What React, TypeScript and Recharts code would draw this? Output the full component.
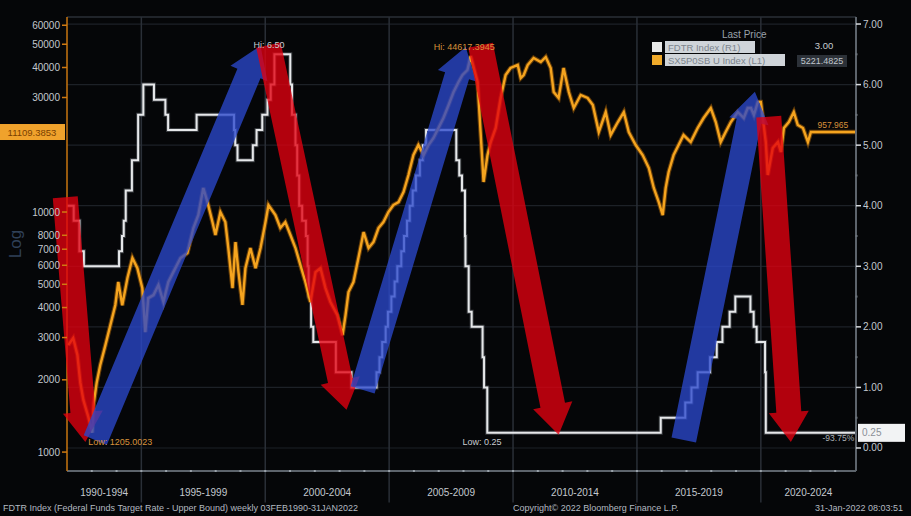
import React from 'react';
import { LineChart, Line, XAxis, YAxis, ReferenceLine, ReferenceDot } from 'recharts';

// ---------- axes ----------
const xDomain = [1992, 2023.84];
const leftDomain = [834, 64930];
const rightDomain = [-0.38, 7.116];
const leftTicks = [1000, 2000, 3000, 4000, 5000, 6000, 7000, 8000, 10000, 30000, 40000, 50000, 60000];
const rightTicks = [0, 0.5, 1, 1.5, 2, 2.5, 3, 3.5, 4, 4.5, 5, 5.5, 6, 6.5, 7];
const yearTicks = [1993, 1994, 1995, 1996, 1997, 1998, 1999, 2000, 2001, 2002, 2003, 2004, 2005, 2006, 2007, 2008, 2009, 2010, 2011, 2012, 2013, 2014, 2015, 2016, 2017, 2018, 2019, 2020, 2021, 2022, 2023];
const periodCenters = [1993.5, 1997.5, 2002.5, 2007.5, 2012.5, 2017.5, 2021.92];
const periodLabels = ['1990-1994', '1995-1999', '2000-2004', '2005-2009', '2010-2014', '2015-2019', '2020-2024'];
const periodBounds = [1995, 2000, 2005, 2010, 2015, 2020];
const gridRates = [0, 1, 2, 3, 4, 5, 6, 7];

// ---------- FDTR (right axis, step) ----------
const fdtrDates = [
  1992.0, 1992.27, 1992.5, 1992.68, 1994.1, 1994.22, 1994.29, 1994.37, 1994.62, 1994.87,
  1995.08, 1995.51, 1995.97, 1996.08, 1997.23, 1998.74, 1998.79, 1998.88, 1999.5, 1999.65,
  1999.88, 2000.09, 2000.22, 2000.37, 2001.01, 2001.08, 2001.22, 2001.29, 2001.37, 2001.49,
  2001.64, 2001.71, 2001.75, 2001.85, 2001.94, 2002.85, 2003.48, 2004.49, 2004.61, 2004.72,
  2004.86, 2004.95, 2005.09, 2005.22, 2005.33, 2005.49, 2005.6, 2005.72, 2005.83, 2005.95,
  2006.08, 2006.24, 2006.36, 2006.49, 2007.71, 2007.83, 2007.94, 2008.06, 2008.08, 2008.21,
  2008.33, 2008.77, 2008.83, 2008.96, 2015.96, 2016.95, 2017.2, 2017.45, 2017.95, 2018.22,
  2018.45, 2018.74, 2018.97, 2019.58, 2019.71, 2019.83, 2020.17, 2020.2, 2023.84,
];
const fdtrRates = [
  4.0, 3.75, 3.25, 3.0, 3.25, 3.5, 3.75, 4.25, 4.75, 5.5,
  6.0, 5.75, 5.5, 5.25, 5.5, 5.25, 5.0, 4.75, 5.0, 5.25,
  5.5, 5.75, 6.0, 6.5, 6.0, 5.5, 5.0, 4.5, 4.0, 3.75,
  3.5, 3.0, 2.5, 2.0, 1.75, 1.25, 1.0, 1.25, 1.5, 1.75,
  2.0, 2.25, 2.5, 2.75, 3.0, 3.25, 3.5, 3.75, 4.0, 4.25,
  4.5, 4.75, 5.0, 5.25, 4.75, 4.5, 4.25, 3.5, 3.0, 2.25,
  2.0, 1.5, 1.0, 0.25, 0.5, 0.75, 1.0, 1.25, 1.5, 1.75,
  2.0, 2.25, 2.5, 2.25, 2.0, 1.75, 1.25, 0.25, 0.25,
];

// ---------- Index (left axis, log) ----------
const idxDates = [
  1992.05, 1992.25, 1992.42, 1992.54, 1992.66, 1992.86, 1993.02, 1993.08, 1993.2, 1993.34,
  1993.55, 1993.75, 1993.95, 1994.07, 1994.23, 1994.44, 1994.64, 1994.84, 1995.04, 1995.16,
  1995.28, 1995.49, 1995.69, 1995.89, 1996.09, 1996.29, 1996.58, 1996.86, 1997.1, 1997.3,
  1997.5, 1997.67, 1997.87, 1997.99, 1998.19, 1998.39, 1998.51, 1998.68, 1998.8, 1998.92,
  1999.08, 1999.2, 1999.4, 1999.61, 1999.81, 2000.01, 2000.13, 2000.41, 2000.61, 2000.81,
  2001.02, 2001.22, 2001.42, 2001.62, 2001.82, 2002.03, 2002.23, 2002.43, 2002.63, 2002.91,
  2003.12, 2003.24, 2003.36, 2003.56, 2003.76, 2003.97, 2004.17, 2004.37, 2004.57, 2004.77,
  2004.97, 2005.17, 2005.38, 2005.58, 2005.78, 2005.98, 2006.18, 2006.39, 2006.59, 2006.79,
  2006.99, 2007.19, 2007.4, 2007.6, 2007.8, 2007.96, 2008.16, 2008.29, 2008.57, 2008.69,
  2008.81, 2008.97, 2009.1, 2009.3, 2009.5, 2009.7, 2009.9, 2010.19, 2010.31, 2010.43,
  2010.59, 2010.83, 2011.12, 2011.32, 2011.52, 2011.64, 2011.84, 2012.04, 2012.25, 2012.45,
  2012.73, 2013.01, 2013.22, 2013.46, 2013.74, 2013.94, 2014.23, 2014.47, 2014.67, 2014.95,
  2015.23, 2015.48, 2015.68, 2015.88, 2016.04, 2016.16, 2016.28, 2016.48, 2016.68, 2016.88,
  2017.17, 2017.45, 2017.69, 2017.98, 2018.18, 2018.38, 2018.58, 2018.79, 2019.07, 2019.31,
  2019.47, 2019.6, 2019.72, 2019.88, 2020.0, 2020.2, 2020.28, 2020.48, 2020.69, 2020.81,
  2020.93, 2021.13, 2021.33, 2021.49, 2021.7, 2021.9, 2022.02, 2023.84,
];
const idxValues = [
  2790, 2985, 2540, 1940, 1650, 1400, 1205, 1600, 1950, 2300,
  2790, 3380, 4100, 5110, 4090, 5310, 6430, 5840, 4820, 3160,
  4380, 4510, 4965, 4220, 5110, 5620, 6430, 6750, 8580, 9720,
  12590, 11000, 9085, 8020, 10000, 9085, 7080, 4820, 7500, 5620,
  4100, 5840, 7080, 5840, 7080, 9085, 10690, 9716, 8580, 9085,
  8000, 7080, 6010, 5110, 4220, 5620, 5840, 4820, 4220, 3720,
  3070, 3720, 4640, 5110, 6430, 8250, 7080, 7500, 8580, 9085,
  10000, 10690, 11000, 12115, 14260, 17280, 19020, 17280, 19020, 20340,
  22390, 24640, 27920, 31620, 34800, 37220, 39050, 44617, 34800, 21540,
  13335, 17280, 19570, 22390, 29850, 37220, 39810, 40970, 36160, 37220,
  40970, 43830, 42170, 44235, 39810, 31620, 29850, 39810, 31620, 27120,
  30720, 29850, 27920, 21540, 26100, 20930, 23710, 26100, 21540, 19020,
  17280, 15250, 12590, 11000, 9716, 12590, 14680, 17280, 19020, 20930,
  19570, 22390, 24640, 27120, 23710, 19570, 21540, 23710, 26100, 24640,
  27120, 27120, 25350, 28730, 28730, 19570, 14260, 18480, 19570, 17780,
  22390, 23710, 26100, 23030, 22390, 19570, 21540, 21540,
];

// ---------- arrow annotations (x in years, y on right axis) ----------
const arrowColors = ['red', 'blue', 'red', 'blue', 'red', 'blue', 'red'];
const arrowTails = [[1991.93, 4.14], [1993.14, 0.13], [2000.13, 6.65], [2003.93, 0.96], [2008.69, 6.65], [2016.89, 0.13], [2020.32, 5.47]];
const arrowTips = [[1992.74, 0.1], [1999.81, 6.64], [2003.28, 0.63], [2008.09, 6.62], [2011.84, 0.22], [2019.76, 5.88], [2021.21, 0.1]];

const fdtrData = fdtrDates.map((t, i) => ({ t, v: fdtrRates[i] }));
const idxData = idxDates.map((t, i) => ({ t, v: idxValues[i] }));

const FONT = '"Liberation Sans", Arial, sans-serif';
const LABEL = '#c3c8ce';
const ORANGE = '#f5a41f';
const FILLS: Record<string, string> = { red: '#e3000f', blue: '#2a48cc' };

const arrowShape = (fill: string) => (p: any) => {
  const { x1, y1, x2, y2 } = p;
  const dx = x2 - x1, dy = y2 - y1;
  const len = Math.hypot(dx, dy) || 1;
  const ux = dx / len, uy = dy / len, nx = -uy, ny = ux;
  const w = 12.5, h = 20, L = 30;
  const bx = x2 - ux * L, by = y2 - uy * L;
  const pts = [
    [x1 + nx * w, y1 + ny * w], [bx + nx * w, by + ny * w], [bx + nx * h, by + ny * h],
    [x2, y2], [bx - nx * h, by - ny * h], [bx - nx * w, by - ny * w], [x1 - nx * w, y1 - ny * w],
  ];
  return <polygon points={pts.map((q) => q.join(',')).join(' ')} fill={fill} fillOpacity={0.78} />;
};

const LeftTick = (p: any) => {
  const { x, y, payload } = p;
  return (
    <g>
      <line x1={x - 5} x2={x} y1={y} y2={y} stroke="#d07a12" strokeWidth={1.5} />
      <text x={x - 7} y={y} dy={3.5} textAnchor="end" fill={LABEL} fontSize={10} fontFamily={FONT}>{payload.value}</text>
    </g>
  );
};

const RightTick = (p: any) => {
  const { x, y, payload } = p;
  const v = payload.value;
  if (Math.abs(v - Math.round(v)) > 0.01) {
    return <rect x={x - 0.5} y={y - 1} width={2} height={2} fill="#6d747c" />;
  }
  return (
    <g>
      <line x1={x} x2={x + 5} y1={y} y2={y} stroke="#d8dce0" strokeWidth={1.5} />
      <text x={x + 7} y={y} dy={3.5} textAnchor="start" fill={LABEL} fontSize={10} fontFamily={FONT}>{v.toFixed(2)}</text>
    </g>
  );
};

const XTick = (p: any) => {
  const { x, y, payload } = p;
  const idx = periodCenters.indexOf(payload.value);
  if (idx >= 0) {
    return <text x={x} y={y + 25} textAnchor="middle" fill={LABEL} fontSize={10} fontFamily={FONT}>{periodLabels[idx]}</text>;
  }
  return <rect x={x - 1} y={y - 1} width={2} height={2} fill="#9aa2aa" />;
};

const textShape = (text: string, color: string, anchor: string = 'start', size: number = 9) => (p: any) => (
  <text x={p.cx} y={p.cy} dy={3} textAnchor={anchor} fill={color} fontSize={size} fontFamily={FONT}>{text}</text>
);

const leftBoxShape = (p: any) => (
  <g>
    <rect x={p.cx - 67} y={p.cy - 8} width={65} height={16} fill="#f0a22c" />
    <text x={p.cx - 35} y={p.cy + 3.5} textAnchor="middle" fill="#7a3f00" fontSize={9.5} fontFamily={FONT}>11109.3853</text>
  </g>
);
const rightBoxShape = (p: any) => (
  <g>
    <rect x={p.cx + 2} y={p.cy - 9} width={47} height={18} fill="#f2f3f4" />
    <text x={p.cx + 6} y={p.cy + 3.5} textAnchor="start" fill="#8a9098" fontSize={10} fontFamily={FONT}>0.25</text>
  </g>
);

export default function App() {
  return (
    <div style={{ position: 'absolute', left: 0, top: 0, width: 911, height: 516, background: '#050608', overflow: 'hidden', fontFamily: FONT }}>
      <LineChart width={911} height={516} margin={{ top: 17, right: 5, bottom: 15, left: 7 }}>
        <XAxis
          dataKey="t" type="number" domain={xDomain} allowDataOverflow
          ticks={[...yearTicks, ...periodCenters]} interval={0}
          tickSize={0} tickMargin={0} tick={<XTick />} height={30}
          axisLine={{ stroke: '#5d646c', strokeWidth: 2 }} tickLine={false}
        />
        <YAxis
          yAxisId="left" scale="log" domain={leftDomain} allowDataOverflow ticks={leftTicks} interval={0}
          width={60} tickSize={0} tickMargin={0} tick={<LeftTick />} tickLine={false}
          axisLine={{ stroke: '#c9760f', strokeWidth: 1.5 }}
        />
        <YAxis
          yAxisId="right" orientation="right" domain={rightDomain} allowDataOverflow ticks={rightTicks} interval={0}
          width={50} tickSize={0} tickMargin={0} tick={<RightTick />} tickLine={false}
          axisLine={{ stroke: '#5d646c', strokeWidth: 2 }}
        />
        {gridRates.map((r) => (
          <ReferenceLine key={'g' + r} yAxisId="right" y={r} stroke="#1d2127" strokeWidth={1.2} zIndex={-100} />
        ))}
        <ReferenceLine yAxisId="right" y={rightDomain[1]} stroke="#2a2f36" strokeWidth={1.5} zIndex={-100} />
        {periodBounds.map((b) => (
          <ReferenceLine
            key={'b' + b} yAxisId="right" ifOverflow="visible" zIndex={-100}
            segment={[{ x: b, y: rightDomain[1] }, { x: b, y: -0.9 }]}
            stroke="#2a2f37" strokeWidth={1.5}
          />
        ))}
        <Line data={fdtrData} dataKey="v" yAxisId="right" type="stepAfter" stroke="#6c7076" strokeOpacity={0.5} strokeWidth={4} dot={false} isAnimationActive={false} />
        <Line data={fdtrData} dataKey="v" yAxisId="right" type="stepAfter" stroke="#e6e8ea" strokeWidth={2} dot={false} isAnimationActive={false} />
        <Line data={idxData} dataKey="v" yAxisId="left" type="linear" stroke="#8a5208" strokeOpacity={0.7} strokeWidth={4.5} dot={false} isAnimationActive={false} />
        <Line data={idxData} dataKey="v" yAxisId="left" type="linear" stroke={ORANGE} strokeWidth={2.4} dot={false} isAnimationActive={false} />
        {arrowColors.map((c, i) => (
          <ReferenceLine
            key={'a' + i} yAxisId="right" ifOverflow="visible" zIndex={1500}
            segment={[{ x: arrowTails[i][0], y: arrowTails[i][1] }, { x: arrowTips[i][0], y: arrowTips[i][1] }]}
            shape={arrowShape(FILLS[c])}
          />
        ))}
        <ReferenceDot yAxisId="left" x={1992.86} y={1101} r={0} ifOverflow="visible" zIndex={1600} shape={textShape('Low: 1205.0023', '#d8913a')} />
        <ReferenceDot yAxisId="right" x={1999.53} y={6.65} r={0} ifOverflow="visible" zIndex={1600} shape={textShape('Hi: 6.50', '#c8ccd0')} />
        <ReferenceDot yAxisId="left" x={2006.8} y={48700} r={0} ifOverflow="visible" zIndex={1600} shape={textShape('Hi: 44617.3945', '#d8913a')} />
        <ReferenceDot yAxisId="right" x={2007.96} y={0.1} r={0} ifOverflow="visible" zIndex={1600} shape={textShape('Low: 0.25', '#c8ccd0')} />
        <ReferenceDot yAxisId="left" x={2022.29} y={23040} r={0} ifOverflow="visible" zIndex={1600} shape={textShape('957.965', '#d8913a', 'start', 8.5)} />
        <ReferenceDot yAxisId="right" x={2022.49} y={0.17} r={0} ifOverflow="visible" zIndex={1600} shape={textShape('-93.75%', '#aeb4ba', 'start', 8.5)} />
        <ReferenceDot yAxisId="left" x={1992} y={21544} r={0} ifOverflow="visible" zIndex={1600} shape={leftBoxShape} />
        <ReferenceDot yAxisId="right" x={2023.84} y={0.25} r={0} ifOverflow="visible" zIndex={1600} shape={rightBoxShape} />
      </LineChart>
      <svg width={911} height={516} style={{ position: 'absolute', left: 0, top: 0, pointerEvents: 'none' }}>
        <text x={21} y={244} transform="rotate(-90 21 244)" textAnchor="middle" fill="#2f4058" fontSize={17} fontFamily={FONT}>Log</text>
        <text x={722} y={38} fill="#9aa2ab" fontSize={10} fontFamily={FONT}>Last Price</text>
        <rect x={652} y={42} width={10} height={10} fill="#e8e8e8" />
        <rect x={665} y={41} width={90} height={12} fill="#cfd4d9" />
        <text x={668} y={50.5} fill="#7c848d" fontSize={9.5} fontFamily={FONT}>FDTR Index (R1)</text>
        <rect x={652} y={55} width={10} height={10} fill="#f0aa2a" />
        <rect x={665} y={54} width={120} height={12} fill="#cfd4d9" />
        <text x={668} y={63.5} fill="#7c848d" fontSize={9.5} fontFamily={FONT}>SX5P0SB U Index (L1)</text>
        <text x={824} y={49} textAnchor="middle" fill="#c8ccd0" fontSize={9.5} fontFamily={FONT}>3.00</text>
        <rect x={797} y={55} width={50} height={12} fill="#2c3138" />
        <text x={822} y={64} textAnchor="middle" fill="#c0c6cc" fontSize={9} fontFamily={FONT}>5221.4825</text>
        <text x={3} y={511} fill="#b4bac1" fontSize={9} fontFamily={FONT}>FDTR Index (Federal Funds Target Rate - Upper Bound)  weekly 03FEB1990-31JAN2022</text>
        <text x={513} y={511} fill="#b4bac1" fontSize={9} fontFamily={FONT}>Copyright© 2022 Bloomberg Finance L.P.</text>
        <text x={903} y={511} textAnchor="end" fill="#b4bac1" fontSize={9} fontFamily={FONT}>31-Jan-2022 08:03:51</text>
      </svg>
    </div>
  );
}
